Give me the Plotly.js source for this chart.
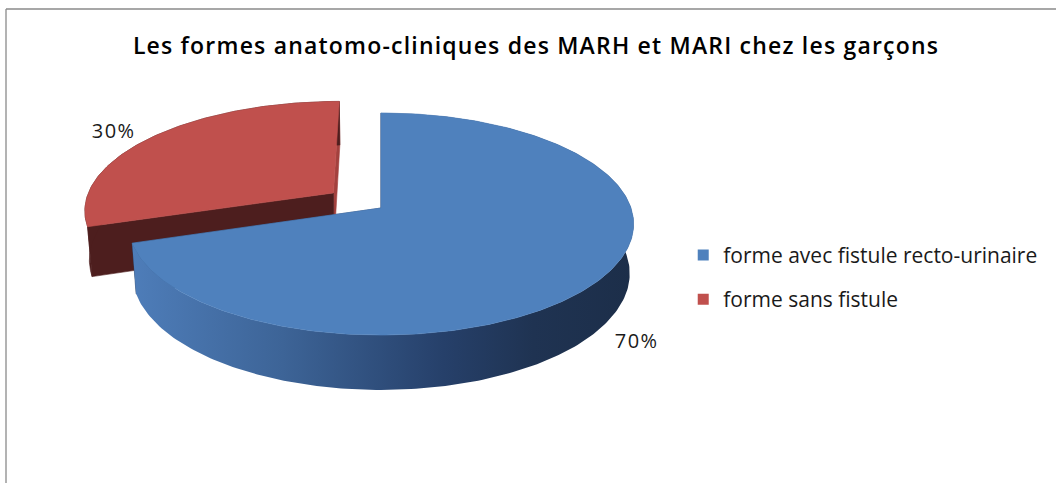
<!DOCTYPE html>
<html>
<head>
<meta charset="utf-8">
<script src="https://cdn.plot.ly/plotly-3.0.1.min.js"></script>
<style>
  html, body { margin: 0; padding: 0; background: #ffffff; }
  #chart { width: 1056px; height: 483px; }
  #chart .gtitle { letter-spacing: 1.2px; }
  #chart .annotation-text { letter-spacing: 1.5px; }
</style>
</head>
<body>
<div id="chart"></div>
<script>
// ---------------- DATA ----------------
const titleText = 'Les formes anatomo-cliniques des MARH et MARI chez les garçons';
const categories = ['forme avec fistule recto-urinaire', 'forme sans fistule'];
const values = [70, 30];
const explodeAmount = [0, 0.24];          // pulled-out slice (fraction of radius)
const topColors = ['#4f81bd', '#c0504d'];
const cutColors = ['#2b4569', '#4d1e1e'];   // face at the slice's start angle
const endColors = ['#2b4569', '#a3413e'];   // face at the slice's end angle
const sideColors = ['#2f4c73', '#4d1e1e'];

// ---------------- 3D PIE PROJECTION (layout) ----------------
const CX = 381, CY = 208;        // screen centre of pie
const D0 = 6.25;                 // camera distance (in radii)
const F = 250 * D0;              // focal scale
const SIN = 0.435, COS = Math.sqrt(1 - SIN * SIN);  // elevation
const THICK = 0.221;             // pie thickness (in radii)
const STEP = 1;                  // degrees per sample

function proj(x, z, h) {
  const yc = h * COS + z * SIN;
  const dc = D0 + z * COS - h * SIN;
  return [CX + F * x / dc, CY - F * yc / dc];
}

const total = values.reduce((a, b) => a + b, 0);
const traces = [];
const deg = Math.PI / 180;

function pushPoly(pts, color, grad) {
  const t = {
    type: 'scatter', mode: 'lines',
    x: pts.map(p => p[0]), y: pts.map(p => p[1]),
    fill: 'toself', fillcolor: color,
    line: { width: 0.6, color: color },
    hoverinfo: 'skip', showlegend: false
  };
  if (grad) { t.fillgradient = grad; t.line = { width: 0 }; }
  traces.push(t);
}

// slice angles (start at 12 o'clock, clockwise)
const slices = [];
let a = 90;
values.forEach((v, i) => {
  const span = 360 * v / total;
  slices.push({ i: i, a0: a, a1: a - span, mid: a - span / 2 });
  a -= span;
});

// back slices first
const order = slices.slice().sort((s, t) => Math.sin(t.mid * deg) - Math.sin(s.mid * deg));

order.forEach(s => {
  const e = explodeAmount[s.i];
  const ex = e * Math.cos(s.mid * deg), ez = e * Math.sin(s.mid * deg);
  const arc = (h) => {
    const pts = [];
    const n = Math.max(2, Math.ceil(Math.abs(s.a0 - s.a1) / STEP));
    for (let k = 0; k <= n; k++) {
      const t = (s.a0 + (s.a1 - s.a0) * k / n) * deg;
      pts.push(proj(ex + Math.cos(t), ez + Math.sin(t), h));
    }
    return pts;
  };
  const topArc = arc(0), botArc = arc(-THICK);
  const apexT = proj(ex, ez, 0), apexB = proj(ex, ez, -THICK);
  const L = topArc.length - 1;

  // radial faces
  pushPoly([apexT, topArc[L], botArc[L], apexB, apexT], endColors[s.i]);
  pushPoly([apexT, topArc[0], botArc[0], apexB, apexT], cutColors[s.i]);

  // outer side band
  const band = topArc.concat(botArc.slice().reverse());
  band.push(topArc[0]);
  if (s.i === 0) {
    pushPoly(band, sideColors[0], {
      type: 'horizontal',
      colorscale: [[0, '#4e7db9'], [0.3, '#3d6497'], [0.62, '#26406a'], [0.8, '#1f3352'], [1, '#1c2e49']]
    });
  } else {
    pushPoly(band, sideColors[s.i]);
  }

  // top face
  const top = [apexT].concat(topArc); top.push(apexT);
  pushPoly(top, topColors[s.i]);
});

// legend entries
categories.forEach((c, i) => {
  traces.push({
    type: 'scatter', mode: 'markers', x: [null], y: [null], name: c,
    marker: { symbol: 'square', size: 11, color: topColors[i] },
    legendgroup: 'g' + i, showlegend: true, hoverinfo: 'skip'
  });
});

const pct = values.map(v => Math.round(100 * v / total) + '%');

const layout = {
  width: 1056, height: 483,
  margin: { l: 0, r: 0, t: 0, b: 0, pad: 0 },
  paper_bgcolor: '#ffffff', plot_bgcolor: '#ffffff',
  xaxis: { range: [0, 1056], visible: false, fixedrange: true },
  yaxis: { range: [483, 0], visible: false, fixedrange: true },
  title: {
    text: titleText, x: 0.5076, xanchor: 'center', y: 0.905, yanchor: 'middle',
    font: { family: 'Open Sans, sans-serif', size: 23, color: '#000000', weight: 600 }
  },
  showlegend: true,
  legend: {
    x: 0.647, y: 0.514, xanchor: 'left', yanchor: 'top',
    font: { family: 'Open Sans, sans-serif', size: 21, color: '#1a1a1a' },
    tracegroupgap: 14, bgcolor: 'rgba(0,0,0,0)', traceorder: 'grouped'
  },
  annotations: [
    { x: 636, y: 340, xref: 'x', yref: 'y', text: pct[0], showarrow: false,
      font: { family: 'Open Sans, sans-serif', size: 20, color: '#1a1a1a' } },
    { x: 113, y: 130, xref: 'x', yref: 'y', text: pct[1], showarrow: false,
      font: { family: 'Open Sans, sans-serif', size: 20, color: '#1a1a1a' } }
  ],
  shapes: [
    { type: 'line', xref: 'x', yref: 'y', x0: 6, y0: 9, x1: 1056, y1: 9, line: { color: '#8a8a8a', width: 1.3 } },
    { type: 'line', xref: 'x', yref: 'y', x0: 6, y0: 9, x1: 6, y1: 483, line: { color: '#8a8a8a', width: 1.3 } }
  ]
};

Plotly.newPlot('chart', traces, layout, { displayModeBar: false, staticPlot: true });
</script>
</body>
</html>
